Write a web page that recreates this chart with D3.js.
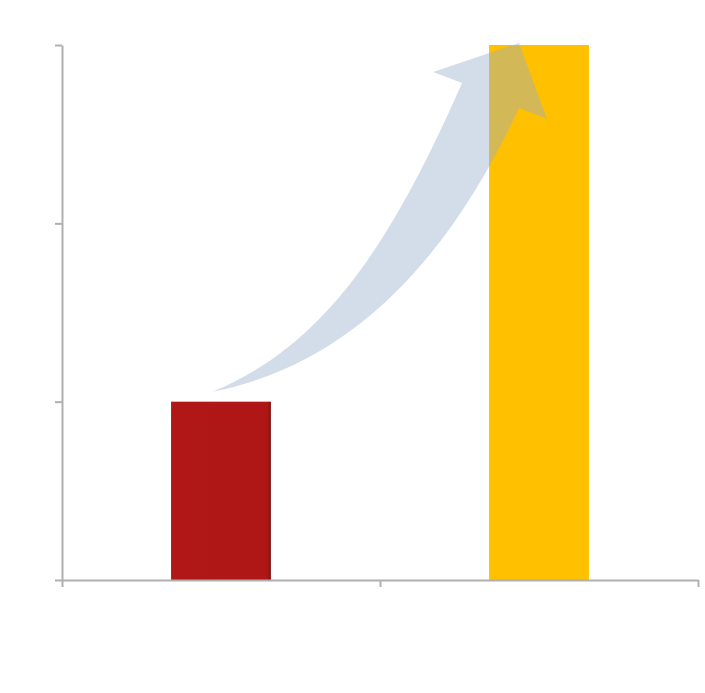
<!DOCTYPE html>
<html>
<head>
<meta charset="utf-8">
<script src="https://cdn.jsdelivr.net/npm/d3@7"></script>
<style>
  body { margin: 0; background: #fff; }
  svg { display: block; }
</style>
</head>
<body>
<div id="chart"></div>
<script>
const categories = ["Before", "After"];
const values = [1, 3];
const barColors = ["#B01716", "#FFC000"];
const yTicks = [0, 1, 2, 3];

const width = 705, height = 693;
const plotLeft = 62, plotRight = 698, plotTop = 45, plotBottom = 580;

const svg = d3.select("#chart")
  .append("svg")
  .attr("width", width)
  .attr("height", height);

const x = d3.scaleBand()
  .domain(categories)
  .range([plotLeft, plotRight])
  .paddingInner(0.686)
  .paddingOuter(0.343);

const y = d3.scaleLinear()
  .domain([0, 3])
  .range([plotBottom, plotTop]);

// slight darker right edge on the red bar
const defs = svg.append("defs");
const grad = defs.append("linearGradient").attr("id", "redEdge");
grad.append("stop").attr("offset", "0%").attr("stop-color", "#B01716");
grad.append("stop").attr("offset", "96%").attr("stop-color", "#AE1716");
grad.append("stop").attr("offset", "100%").attr("stop-color", "#7E1515");

svg.selectAll(".bar")
  .data(values)
  .enter()
  .append("rect")
  .attr("class", "bar")
  .attr("x", (d, i) => x(categories[i]))
  .attr("width", x.bandwidth())
  .attr("y", d => y(d))
  .attr("height", d => y(0) - y(d))
  .style("fill", (d, i) => i === 0 ? "url(#redEdge)" : barColors[i]);

// curved growth arrow, anchored to the bar tops
const x0 = x(categories[0]), x1 = x(categories[1]);
const y1 = y(values[0]), y3 = y(values[1]);
const a = d3.path();
a.moveTo(x0 + 41, y1 - 10);                                   // tail
a.bezierCurveTo(x0 + 158, y1 - 57, x0 + 225, y1 - 169, x1 - 27, y3 + 38);
a.lineTo(x1 - 56, y3 + 27);                                   // left barb
a.lineTo(x1 + 30, y3 - 2);                                    // tip
a.lineTo(x1 + 58, y3 + 74);                                   // right barb
a.lineTo(x1 + 30, y3 + 63);                                   // notch
a.bezierCurveTo(x0 + 298, y3 + 170, x0 + 208, y1 - 42, x0 + 41, y1 - 10);
a.closePath();

svg.append("path")
  .attr("d", a.toString())
  .style("fill", "#99AECD")
  .style("fill-opacity", 0.43);

// axes
const xEdge = d3.scaleLinear().domain([0, 2]).range([plotLeft, plotRight]);

const xAxis = svg.append("g")
  .attr("transform", `translate(0,${plotBottom})`)
  .call(d3.axisBottom(xEdge).tickValues([0, 1, 2]).tickFormat("").tickSize(7).tickSizeOuter(0));

const yAxis = svg.append("g")
  .attr("transform", `translate(${plotLeft},0)`)
  .call(d3.axisLeft(y).tickValues(yTicks).tickFormat("").tickSize(7).tickSizeOuter(0));

[xAxis, yAxis].forEach(g => {
  g.selectAll("path, line")
    .style("stroke", "#B0B0B0")
    .style("stroke-width", 2);
});
</script>
</body>
</html>
